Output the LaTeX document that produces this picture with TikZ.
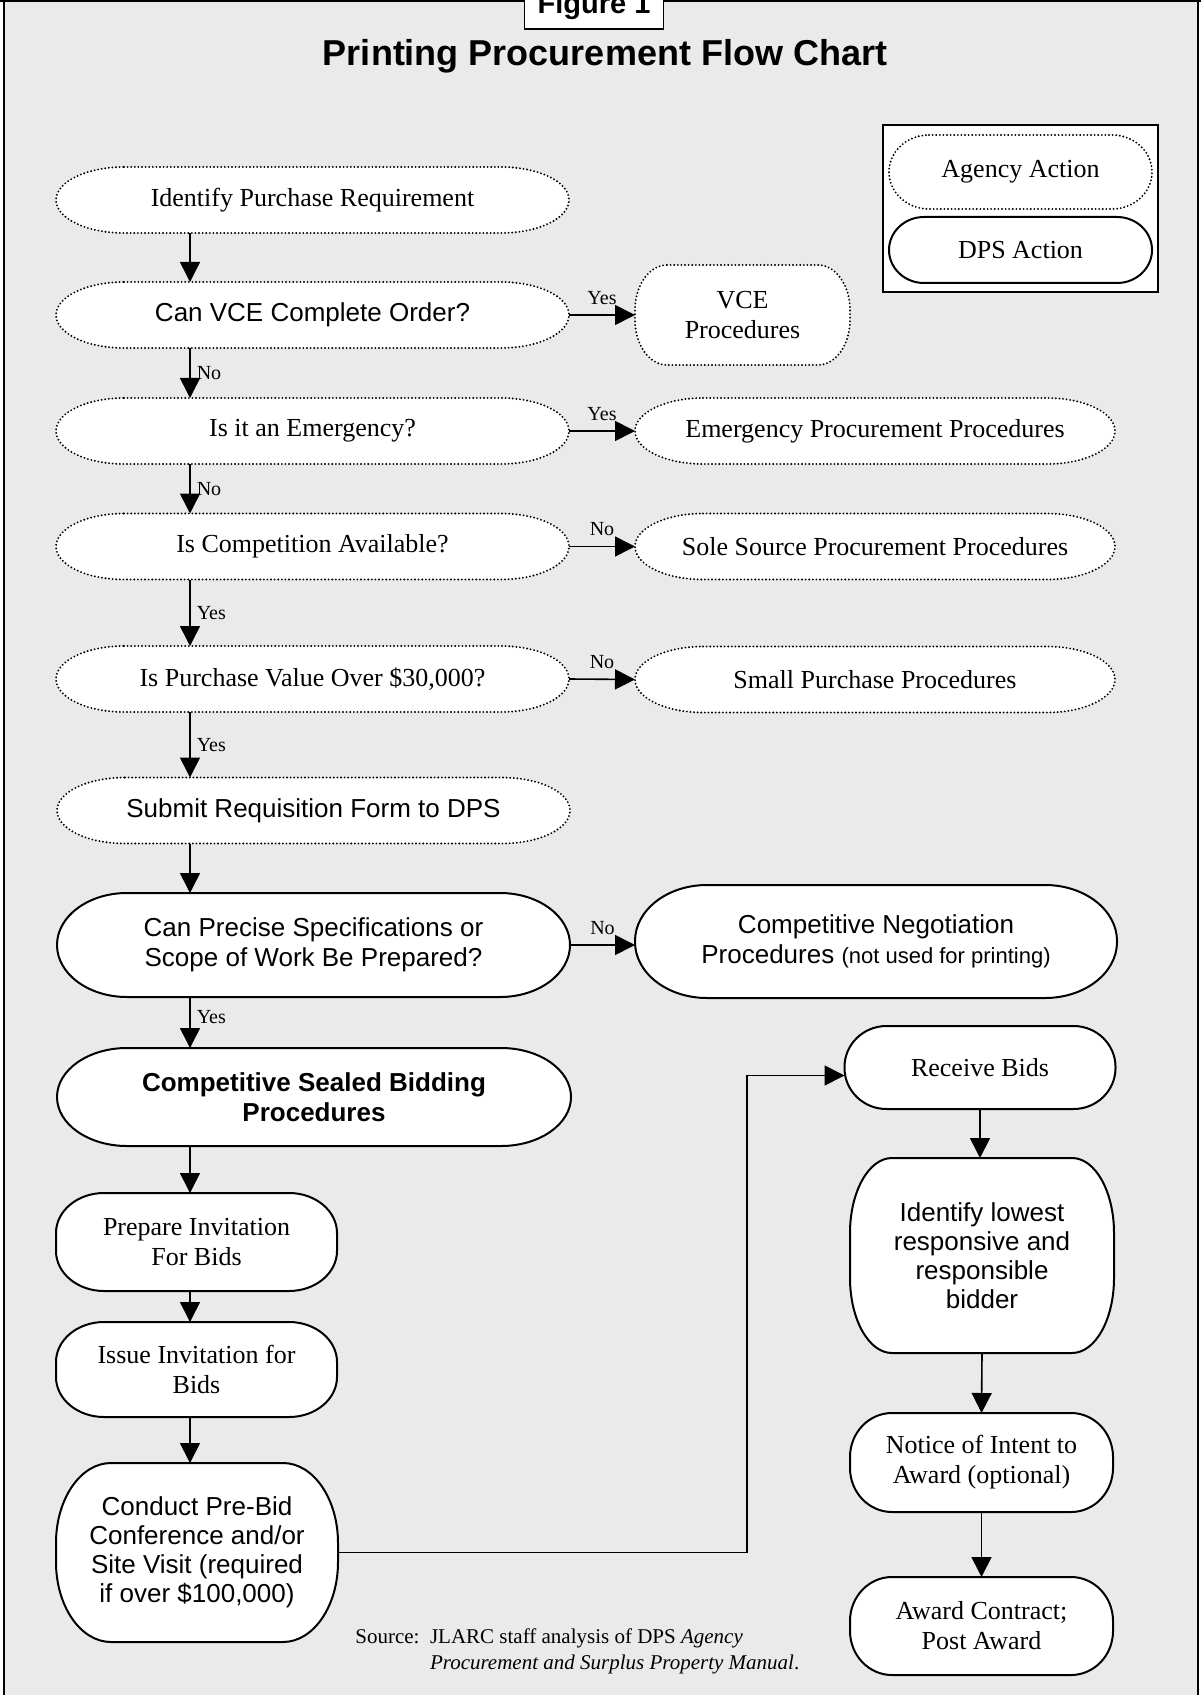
\documentclass[tikz,border=0pt]{standalone}
\usepackage{fontspec}
\setmainfont{Liberation Serif}
\newfontfamily\arialfont{Liberation Sans}
\usetikzlibrary{calc,arrows.meta,positioning}
\definecolor{pageGray}{RGB}{234,234,234}
\pgfdeclarelayer{back}
\pgfsetlayers{back,main}
\newcommand{\OvalFrame}[4]{%
\begin{pgfonlayer}{back}
  \path[#4] ($(#1.north west)+(#2,0pt)$) -- ($(#1.north east)+(-#2,0pt)$)
    arc[start angle=90,end angle=0,x radius=#2,y radius=#3]
    -- ($(#1.south east)+(0pt,#3)$)
    arc[start angle=0,end angle=-90,x radius=#2,y radius=#3]
    -- ($(#1.south west)+(#2,0pt)$)
    arc[start angle=-90,end angle=-180,x radius=#2,y radius=#3]
    -- ($(#1.north west)+(0pt,-#3)$)
    arc[start angle=180,end angle=90,x radius=#2,y radius=#3]
    -- cycle;
\end{pgfonlayer}}
\tikzset{
  box/.style={inner sep=0pt, outer sep=0pt, align=center},
  serif/.style={font=\fontsize{13}{15}\selectfont},
  sans/.style={font=\arialfont\fontsize{13}{15}\selectfont},
  sanstall/.style={font=\arialfont\fontsize{13}{14.5}\selectfont},
  sansbold/.style={font=\arialfont\bfseries\fontsize{13}{15}\selectfont},
  mainoval/.style={box, minimum width=256.5pt, minimum height=33pt},
  sideoval/.style={box, minimum width=240pt, minimum height=33pt},
  agencyline/.style={draw, fill=white, line width=1.05pt, dash pattern=on 0pt off 1.8pt, line cap=round},
  dpsline/.style={draw, fill=white, line width=1pt},
  flow/.style={line width=0.8pt, -{Triangle[length=10pt,width=10pt]}},
  tag/.style={font=\fontsize{10}{12}\selectfont, inner sep=3pt},
}

\begin{document}
\begin{tikzpicture}[x=0.5pt,y=0.5pt]
\useasboundingbox (0,0) rectangle (1201,-1695);
\begin{pgfonlayer}{back}
\fill[pageGray] (4,-2) rectangle (1198,-1700);
\node[draw, fill=white, line width=1pt, inner sep=0pt, minimum width=137.5pt, minimum height=83.5pt] (legend) at (1020.5,-208.5) {};
\end{pgfonlayer}
\clip (0,0) rectangle (1201,-1695);
\draw[line width=0.8pt] (4,-1) -- (4,-1700) (1198,-1) -- (1198,-1700);
\draw[line width=1.4pt] (0,-1) -- (1201,-1);
\node[draw, fill=white, line width=0.7pt, font=\arialfont\bfseries\fontsize{14.5}{16}\selectfont, anchor=base, minimum width=69.5pt, text depth=4pt, inner ysep=3.5pt] (figtag) at (594,-14) {Figure 1};
\node[font=\arialfont\bfseries\fontsize{18}{20}\selectfont] (title) at (605,-56) {Printing Procurement Flow Chart};

\node[box, serif, minimum width=131.5pt, minimum height=37pt] (agencykey) at (1020.5,-172) {Agency Action};
\node[box, serif, minimum width=131.5pt, minimum height=33pt] (dpskey) at (1020.5,-250) {DPS Action};

\coordinate (spine) at (190,0);
\node[mainoval, serif] (ident) at (312.5,-200) {Identify Purchase Requirement};
\node[mainoval, sans] (vce) at (312.5,-315) {Can VCE Complete Order?};
\node[mainoval, serif] (emerg) at (312.5,-431) {Is it an Emergency?};
\node[mainoval, serif] (compet) at (312.5,-546.5) {Is Competition Available?};
\node[mainoval, serif] (value) at (312.5,-679) {Is Purchase Value Over \$30,000?};
\node[mainoval, sans] (submit) at (313.5,-810.5) {Submit Requisition Form to DPS};
\node[box, sans, minimum width=256.5pt, minimum height=52pt] (precise) at (313.5,-945) {Can Precise Specifications or\\Scope of Work Be Prepared?};
\node[box, sansbold, minimum width=257pt, minimum height=49pt] (sealed) at (314,-1097) {Competitive Sealed Bidding\\Procedures};
\node[box, serif, minimum width=140.5pt, minimum height=49pt] (prepare) at (196.5,-1242) {Prepare Invitation\\For Bids};
\node[box, serif, minimum width=140.5pt, minimum height=47.5pt] (issue) at (196.5,-1369.5) {Issue Invitation for\\Bids};
\node[box, sanstall, minimum width=141pt, minimum height=89.5pt] (conduct) at (197,-1552.5) {Conduct Pre-Bid\\Conference and/or\\Site Visit (required\\if over \$100,000)};

\node[box, serif, minimum width=107.5pt, minimum height=50pt] (vceproc) at (742.5,-315) {VCE\\Procedures};
\node[sideoval, serif] (emproc) at (875,-431) {Emergency Procurement Procedures};
\node[sideoval, serif] (sole) at (875,-546.5) {Sole Source Procurement Procedures};
\node[sideoval, serif] (small) at (875,-679.5) {Small Purchase Procedures};
\node[box, sans, minimum width=241pt, minimum height=56.5pt] (negot) at (876,-941.5) {Competitive Negotiation\\Procedures {\fontsize{11}{13}\selectfont (not used for printing)}};

\node[box, serif, minimum width=135.5pt, minimum height=41.5pt] (receive) at (980,-1067.5) {Receive Bids};
\node[box, sanstall, minimum width=132pt, minimum height=97.5pt] (lowest) at (982,-1255.5) {Identify lowest\\responsive and\\responsible\\bidder};
\node[box, serif, minimum width=131.5pt, minimum height=49.5pt] (notice) at (981.5,-1462.5) {Notice of Intent to\\Award (optional)};
\node[box, serif, minimum width=131.5pt, minimum height=49pt] (award) at (981.5,-1626) {Award Contract;\\Post Award};

\node[anchor=west, inner sep=0pt, font=\fontsize{10.5}{13}\selectfont] (source) at (355,-1651) {\begin{tabular}{@{}l@{\ \ }l@{}}Source: & JLARC staff analysis of DPS \textit{Agency}\\ & \textit{Procurement and Surplus Property Manual}.\end{tabular}};

\OvalFrame{agencykey}{20pt}{18.5pt}{agencyline}
\OvalFrame{dpskey}{17.5pt}{16.5pt}{dpsline}
\OvalFrame{ident}{34pt}{16.5pt}{agencyline}
\OvalFrame{vce}{34pt}{16.5pt}{agencyline}
\OvalFrame{emerg}{34pt}{16.5pt}{agencyline}
\OvalFrame{compet}{34pt}{16.5pt}{agencyline}
\OvalFrame{value}{34pt}{16.5pt}{agencyline}
\OvalFrame{submit}{34pt}{16.5pt}{agencyline}
\OvalFrame{vceproc}{16pt}{22.5pt}{agencyline}
\OvalFrame{emproc}{34pt}{16.5pt}{agencyline}
\OvalFrame{sole}{34pt}{16.5pt}{agencyline}
\OvalFrame{small}{34pt}{16.5pt}{agencyline}
\OvalFrame{precise}{35pt}{26pt}{dpsline}
\OvalFrame{negot}{36pt}{28pt}{dpsline}
\OvalFrame{sealed}{35pt}{24.5pt}{dpsline}
\OvalFrame{prepare}{24pt}{20pt}{dpsline}
\OvalFrame{issue}{24pt}{20pt}{dpsline}
\OvalFrame{conduct}{27.5pt}{40pt}{dpsline}
\OvalFrame{receive}{21pt}{20.5pt}{dpsline}
\OvalFrame{lowest}{21pt}{37.5pt}{dpsline}
\OvalFrame{notice}{21pt}{22pt}{dpsline}
\OvalFrame{award}{21pt}{22pt}{dpsline}

\draw[flow] (ident.south -| spine) -- (vce.north -| spine);
\draw[flow] (vce.south -| spine) -- node[tag, right] {No} (emerg.north -| spine);
\draw[flow] (emerg.south -| spine) -- node[tag, right] {No} (compet.north -| spine);
\draw[flow] (compet.south -| spine) -- node[tag, right] {Yes} (value.north -| spine);
\draw[flow] (value.south -| spine) -- node[tag, right] {Yes} (submit.north -| spine);
\draw[flow] (submit.south -| spine) -- (precise.north -| spine);
\draw[flow] (precise.south -| spine) -- node[tag, right, pos=0.4] {Yes} (sealed.north -| spine);
\draw[flow] (sealed.south -| spine) -- (prepare.north -| spine);
\draw[flow] (prepare.south -| spine) -- (issue.north -| spine);
\draw[flow] (issue.south -| spine) -- (conduct.north -| spine);

\draw[flow] (vce.east) -- node[tag, above, yshift=2pt] {Yes} (vceproc.west);
\draw[flow] (emerg.east) -- node[tag, above, yshift=2pt] {Yes} (emproc.west);
\draw[flow] (compet.east) -- node[tag, above, yshift=2pt] {No} (sole.west);
\draw[flow] (value.east) -- node[tag, above, yshift=2pt] {No} (small.west);
\draw[flow] (precise.east) -- node[tag, above, yshift=2pt] {No} (precise.east -| negot.west);

\coordinate (turn) at (747,0);
\draw[flow] (conduct.east) -- (conduct.east -| turn) |- ($(receive.west)+(0,-8)$);
\draw[flow] (receive.south) -- (receive.south |- lowest.north);
\draw[flow] (lowest.south) -- (notice.north);
\draw[flow] (notice.south) -- (award.north);
\end{tikzpicture}
\end{document}
